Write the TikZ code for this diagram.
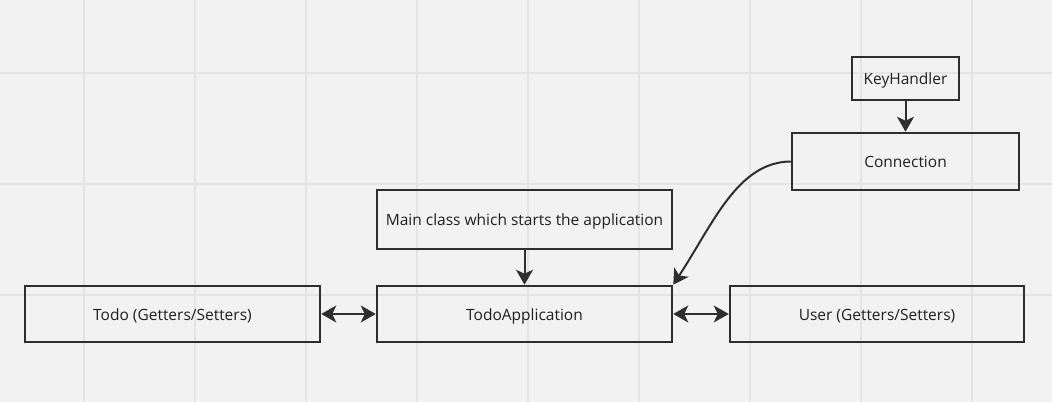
\documentclass[tikz,border=0pt]{standalone}
\usepackage{fontspec}
\setmainfont{Open Sans}
\usetikzlibrary{arrows.meta}
\definecolor{bg}{HTML}{F2F2F2}
\definecolor{gridc}{HTML}{E4E4E4}
\definecolor{ink}{HTML}{2E2E2E}
\definecolor{txt}{HTML}{1F1F1F}
\begin{document}
\begin{tikzpicture}[x=1pt,y=-1pt,
  box/.style={draw=ink,line width=2.5pt,rectangle,inner sep=0pt,text=txt,
    text height=13pt,text depth=1pt,
    font=\fontsize{15.5}{18}\selectfont},
  conn/.style={draw=ink,line width=2pt,-{Stealth[length=15pt,width=17pt,inset=4pt]}},
  dconn/.style={draw=ink,line width=2pt,{Stealth[length=15pt,width=17pt,inset=4pt]}-{Stealth[length=15pt,width=17pt,inset=4pt]}}]
\fill[bg] (0,0) rectangle (1052,402);
\useasboundingbox (0,0) rectangle (1052,402);
\foreach \gx in {84,195,306,417,528,639,750,861,972}
  \draw[gridc,line width=1.2pt] (\gx,0) -- (\gx,402);
\foreach \gy in {73,184,295}
  \draw[gridc,line width=1.2pt] (0,\gy) -- (1052,\gy);
\node[box,minimum width=107pt,minimum height=43pt] (kh) at (905.5,78.5) {KeyHandler};
\node[box,minimum width=227pt,minimum height=57pt] (cn) at (905.5,161.5) {Connection};
\node[box,minimum width=295pt,minimum height=59pt] (mc) at (524.5,219.5) {Main class which starts the application};
\node[box,minimum width=295pt,minimum height=56pt] (ta) at (524.5,314) {TodoApplication};
\node[box,minimum width=295pt,minimum height=56pt] (td) at (172.5,314) {Todo (Getters/Setters)};
\node[box,minimum width=294pt,minimum height=56pt] (us) at (877,314) {User (Getters/Setters)};
\draw[conn] (kh.south) -- (cn.north);
\draw[conn] (mc.south) -- (ta.north);
\draw[dconn] (td.east) -- (ta.west);
\draw[dconn] (ta.east) -- (us.west);
\draw[conn] (cn.west) .. controls (738,162) and (714,222) .. (ta.north east);
\end{tikzpicture}
\end{document}
